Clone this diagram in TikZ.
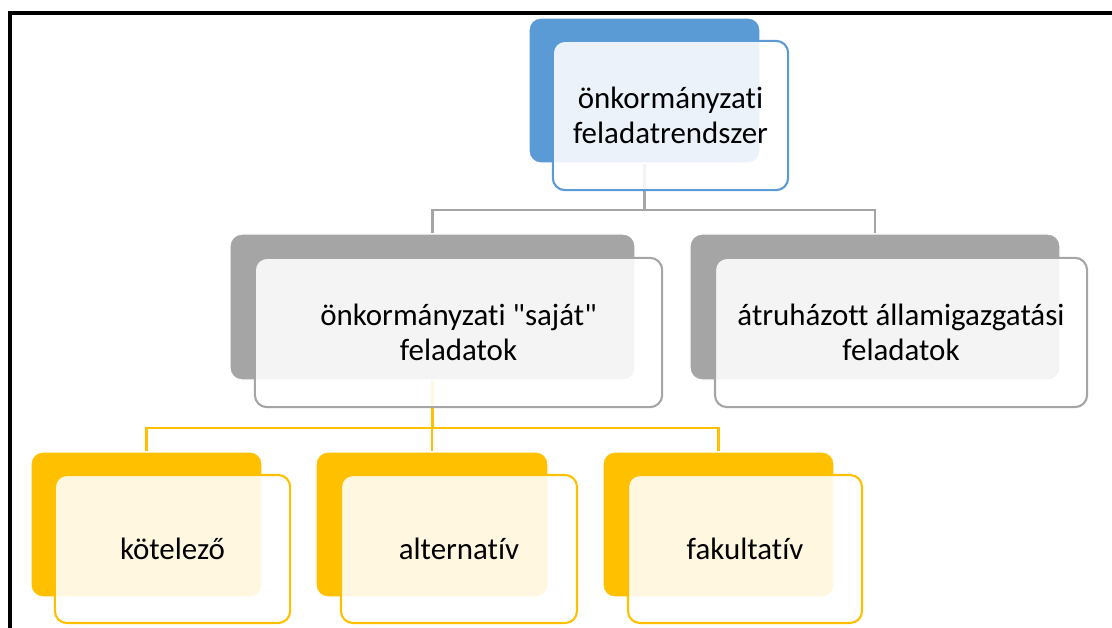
\documentclass[tikz,border=0pt]{standalone}
\usepackage{fontspec}
\setmainfont{Carlito}[Ligatures=NoCommon]
\usepackage{tikz}
\definecolor{accblue}{HTML}{5B9BD5}
\definecolor{accgray}{HTML}{A5A5A5}
\definecolor{accyellow}{HTML}{FFC000}
\tikzset{back/.style={draw=white, line width=1pt, rounded corners=0.3cm, inner sep=0pt},
  front/.style={fill=white, fill opacity=0.88, text opacity=1, line width=1.5pt, rounded corners=0.3cm,
    inner sep=0pt, align=center, font=\fontsize{22}{25}\selectfont},
  gline/.style={draw=accgray, line width=1.5pt},
  yline/.style={draw=accyellow, line width=1.5pt}}

\begin{document}
\begin{tikzpicture}[x=0.025cm, y=-0.025cm]
    \useasboundingbox (0,0) rectangle (1112,628);
    \draw [line width=3pt] (10,628) |- (1112,13);
    % back blocks
    \node [back, fill=accblue, minimum width=5.78cm, minimum height=3.63cm] (topback) at (644.5,90.5) {};
    \node [back, fill=accgray, minimum width=10.13cm, minimum height=3.65cm] (ownback) at (432.5,307) {};
    \node [back, fill=accgray, minimum width=9.25cm, minimum height=3.65cm] (stateback) at (875,307) {};
    \node [back, fill=accyellow, minimum width=5.78cm, minimum height=3.63cm] (mandback) at (146.5,524.5) {};
    \node [back, fill=accyellow, minimum width=5.8cm, minimum height=3.63cm] (altback) at (432,524.5) {};
    \node [back, fill=accyellow, minimum width=5.78cm, minimum height=3.63cm] (optback) at (718.5,524.5) {};
    % connectors
    \coordinate (bus1) at (644.5,210);
    \coordinate (bus2) at (432.5,428);
    \draw [gline] (topback.south) -- (bus1);
    \draw [gline] (bus1) -| (ownback.north);
    \draw [gline] (bus1) -| (stateback.north);
    \draw [yline] (ownback.south) -- (bus2);
    \draw [yline] (bus2) -| (mandback.north);
    \draw [yline] (bus2) -| (altback.north);
    \draw [yline] (bus2) -| (optback.north);
    % front blocks
    \node [front, draw=accblue, minimum width=5.88cm, minimum height=3.73cm] (top) at (670.5,115.5) {önkormányzati\\feladatrendszer};
    \node [front, draw=accgray, minimum width=10.18cm, minimum height=3.73cm] (own) at (458.5,332.5) {önkormányzati \textquotedbl saját\textquotedbl\\feladatok};
    \node [front, draw=accgray, minimum width=9.3cm, minimum height=3.73cm] (state) at (901,332.5) {átruházott államigazgatási\\feladatok};
    \node [front, draw=accyellow, minimum width=5.88cm, minimum height=3.7cm] (mand) at (172.5,549) {kötelező};
    \node [front, draw=accyellow, minimum width=5.9cm, minimum height=3.7cm] (alt) at (459,549) {alternatív};
    \node [front, draw=accyellow, minimum width=5.85cm, minimum height=3.7cm] (opt) at (745,549) {fakultatív};
\end{tikzpicture}
\end{document}
